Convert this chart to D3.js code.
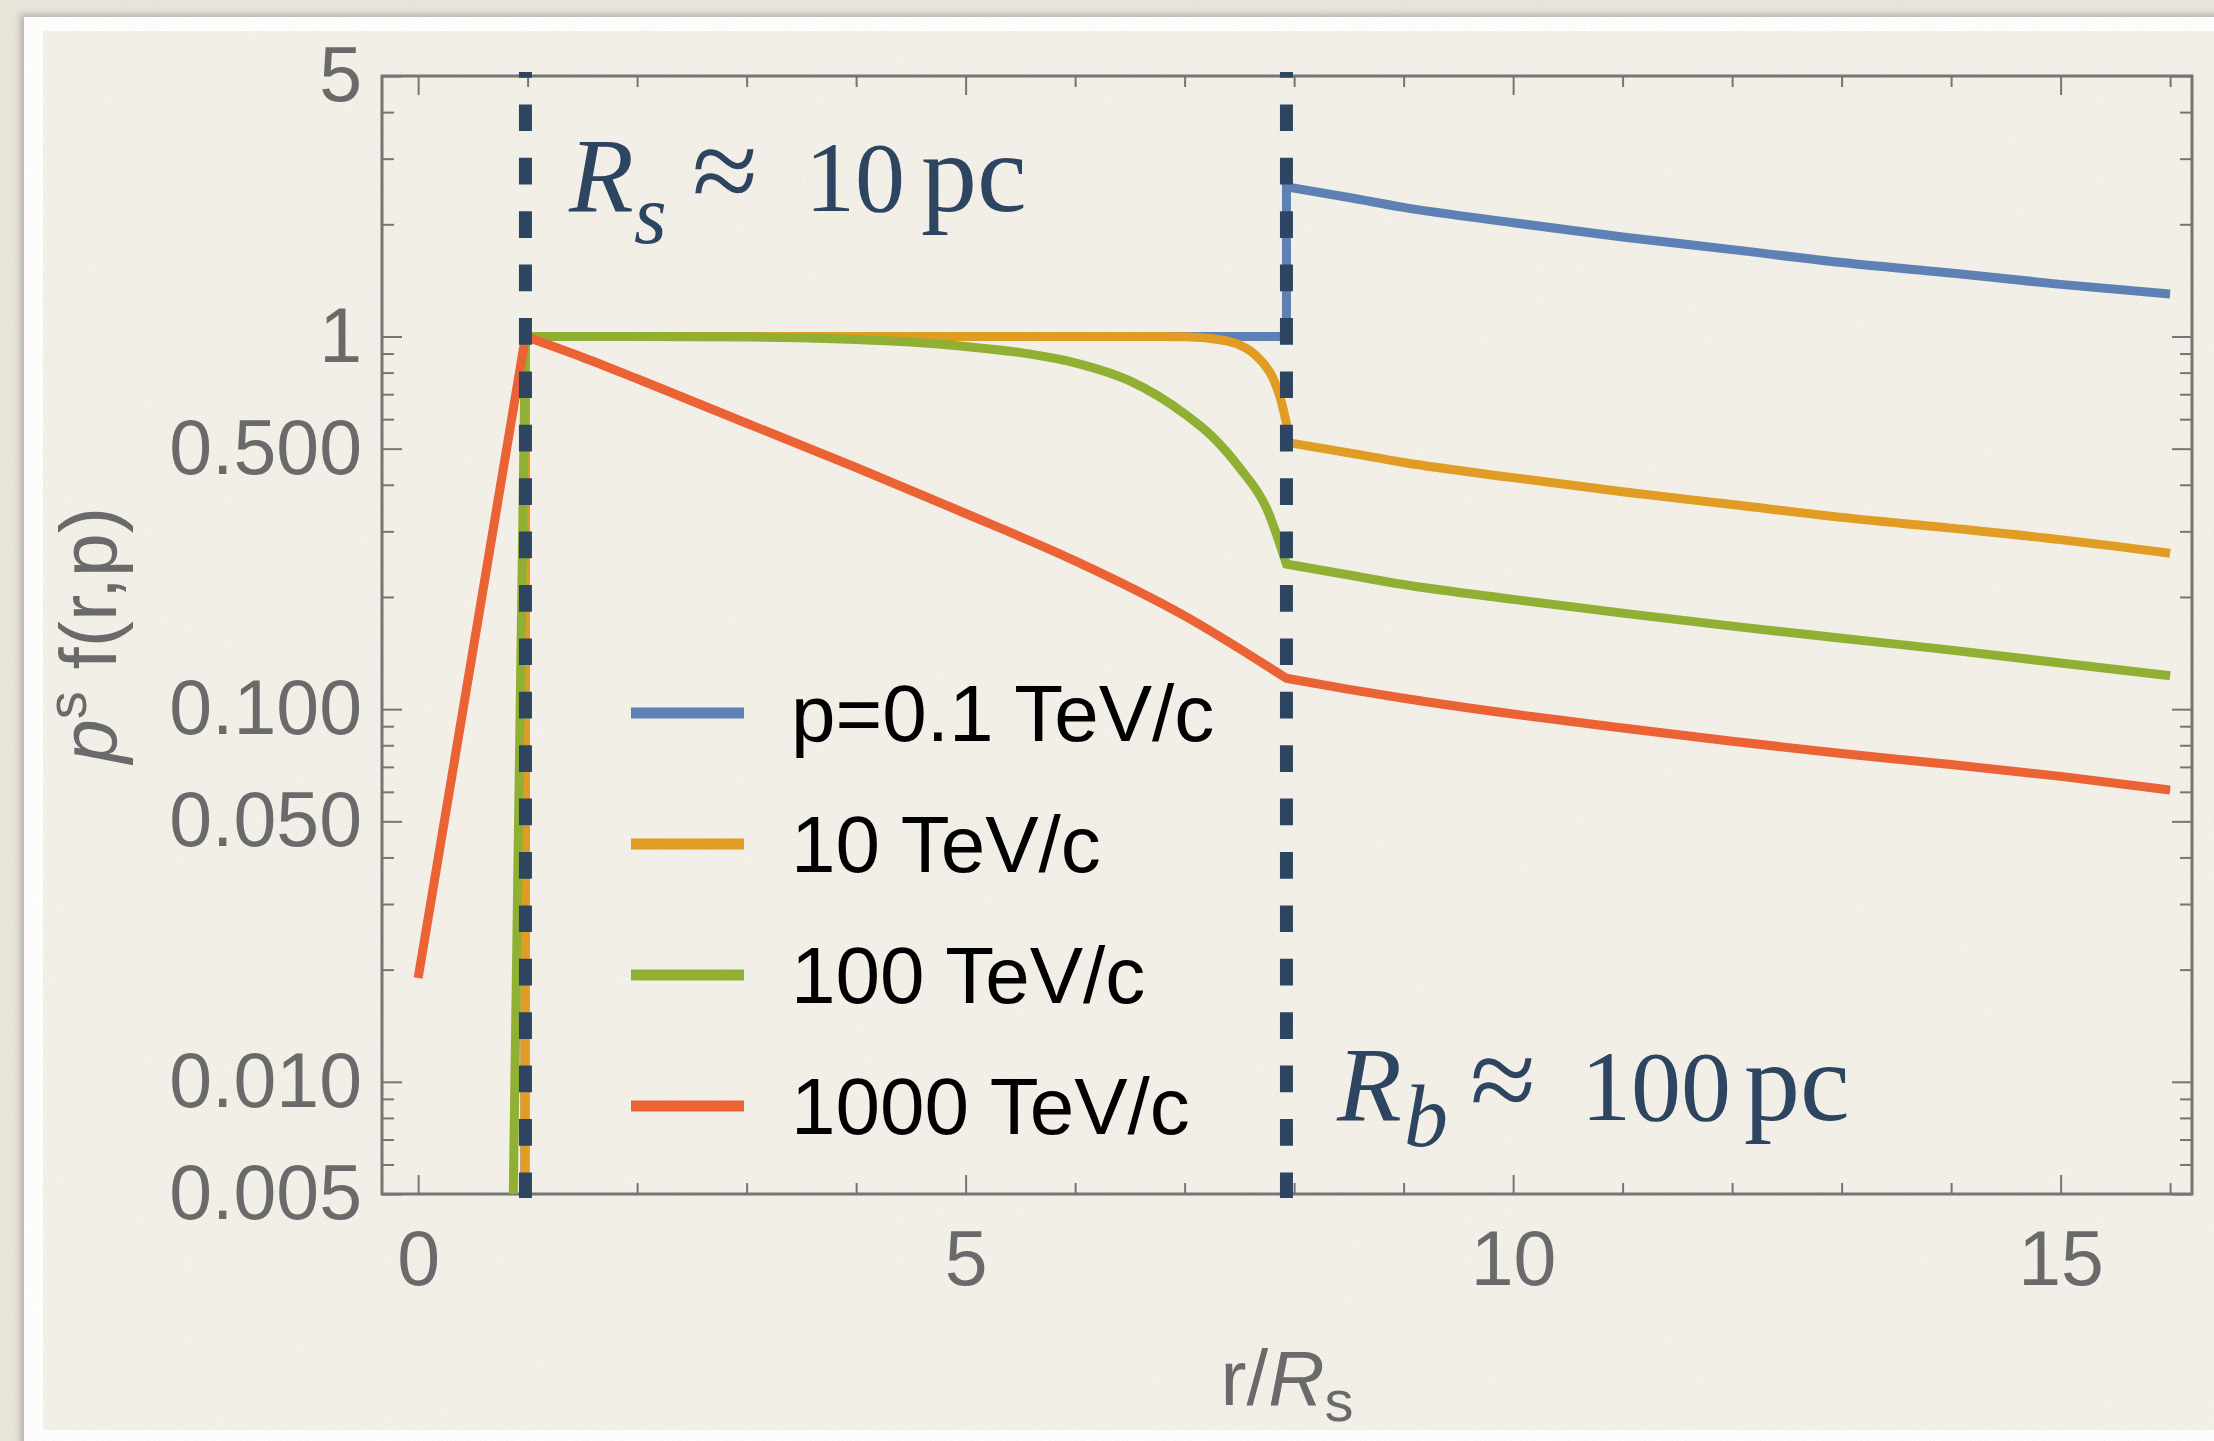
<!DOCTYPE html>
<html>
<head>
<meta charset="utf-8">
<script src="https://cdn.jsdelivr.net/npm/d3@7"></script>
<style>
  body { margin: 0; background: #ebe6dc; }
  svg { display: block; }
</style>
</head>
<body>
<div id="chart"></div>
<script>
// values: r in units of R_s, p^s f(r,p)
var rBlue = [0.975, 0.98, 2, 3, 4, 5, 6, 7, 7.93, 7.93, 8.5, 9, 10, 11, 12, 13, 14, 15, 16];
var fBlue = [0.004, 1, 1, 1, 1, 1, 1, 1, 1, 2.52, 2.36, 2.22, 2.02, 1.85, 1.71, 1.58, 1.48, 1.38, 1.30];

var rOrange = [0.975, 0.98, 2, 3, 4, 5, 6, 6.8, 7.0, 7.2, 7.4, 7.5, 7.6, 7.7, 7.8, 7.87, 7.93, 7.93, 8.5, 9, 10, 11, 12, 13, 14, 15, 16];
var fOrange = [0.004, 1, 1, 1, 1, 1, 1, 1, 0.998, 0.99, 0.97, 0.95, 0.915, 0.86, 0.78, 0.69, 0.585, 0.52, 0.487, 0.459, 0.418, 0.383, 0.354, 0.327, 0.306, 0.285, 0.262];

var rGreen = [0.868, 0.98, 2, 3, 3.5, 4, 4.5, 5, 5.5, 6, 6.5, 7, 7.25, 7.5, 7.75, 7.93, 7.93, 8.5, 9, 10, 11, 12, 13, 14, 15, 16];
var fGreen = [0.0048, 1, 1, 0.997, 0.992, 0.982, 0.966, 0.94, 0.905, 0.85, 0.76, 0.62, 0.54, 0.445, 0.345, 0.245, 0.245, 0.229, 0.216, 0.197, 0.181, 0.167, 0.155, 0.144, 0.133, 0.123];

var rRed = [0, 0.98, 1.5, 2, 3, 4, 5, 6, 7, 7.93, 7.93, 8.5, 9, 10, 11, 12, 13, 14, 15, 16];
var fRed = [0.019, 1, 0.88, 0.77, 0.585, 0.445, 0.335, 0.25, 0.178, 0.121, 0.121, 0.113, 0.107, 0.097, 0.089, 0.082, 0.076, 0.071, 0.066, 0.0607];

var seriesNames = ["p=0.1 TeV/c", "10 TeV/c", "100 TeV/c", "1000 TeV/c"];
var seriesColors = ["#5e81b5", "#e19c24", "#8fb032", "#eb6235"];

var xTicksMajor = [0, 5, 10, 15];
var xTicksMinor = [1, 2, 3, 4, 6, 7, 8, 9, 11, 12, 13, 14, 16];
var yTicksMajor = [0.005, 0.01, 0.05, 0.1, 0.5, 1, 5];
var yTickLabels = ["0.005", "0.010", "0.050", "0.100", "0.500", "1", "5"];
var yTicksMinor = [0.006, 0.007, 0.008, 0.009, 0.02, 0.03, 0.04, 0.06, 0.07, 0.08, 0.09,
                   0.2, 0.3, 0.4, 0.6, 0.7, 0.8, 0.9, 2, 3, 4];

// R_s and R_b positions (r/R_s)
var markerLines = [0.98, 7.93];

var svgWidth = 2214;
var svgHeight = 1441;
var plot = { left: 382, right: 2192, top: 76, bottom: 1194 };

var svg = d3.select("#chart")
  .append("svg")
  .attr("width", svgWidth)
  .attr("height", svgHeight);

var defs = svg.append("defs");

var blur = defs.append("filter").attr("id", "shadow");
blur.append("feGaussianBlur").attr("stdDeviation", 3);

var grain = defs.append("filter").attr("id", "grain")
  .attr("x", 0).attr("y", 0).attr("width", "100%").attr("height", "100%");
grain.append("feTurbulence")
  .attr("type", "fractalNoise")
  .attr("baseFrequency", 0.9)
  .attr("numOctaves", 2)
  .attr("seed", 3);
grain.append("feColorMatrix")
  .attr("type", "matrix")
  .attr("values", "0 0 0 0 0.55  0 0 0 0 0.5  0 0 0 0 0.4  0 0 0 -1.2 0.75");

defs.append("clipPath").attr("id", "plotClip")
  .append("rect")
  .attr("x", plot.left)
  .attr("y", plot.top)
  .attr("width", plot.right - plot.left)
  .attr("height", plot.bottom - plot.top);

// paper background, white mount and inner panel
svg.append("rect").attr("width", svgWidth).attr("height", svgHeight).attr("fill", "#ebe6dc");
svg.append("rect")
  .attr("x", 20).attr("y", 14)
  .attr("width", svgWidth).attr("height", svgHeight)
  .attr("fill", "#b9b5ad")
  .attr("filter", "url(#shadow)");
svg.append("rect")
  .attr("x", 24).attr("y", 17)
  .attr("width", svgWidth).attr("height", svgHeight)
  .attr("fill", "#ffffff");
svg.append("rect")
  .attr("x", 43).attr("y", 31)
  .attr("width", svgWidth - 43).attr("height", 1430 - 31)
  .attr("fill", "#f4f1ea");
svg.append("rect")
  .attr("width", svgWidth).attr("height", svgHeight)
  .attr("filter", "url(#grain)")
  .attr("opacity", 0.25);

var xScale = d3.scaleLinear().domain([-0.33, 16.2]).range([plot.left, plot.right]);
var yScale = d3.scaleLog().domain([0.005, 5]).range([plot.bottom, plot.top]);

var axisColor = "#757575";
var labelColor = "#6a6a6a";

function styleAxis(g) {
  g.select(".domain").remove();
  g.selectAll(".tick line").attr("stroke", axisColor).attr("stroke-width", 2);
  g.selectAll(".tick text")
    .attr("fill", labelColor)
    .style("font-family", "'Liberation Sans', Arial, sans-serif")
    .style("font-size", "77px");
}

// major ticks with labels
svg.append("g")
  .attr("transform", `translate(0, ${plot.bottom})`)
  .call(d3.axisBottom(xScale).tickValues(xTicksMajor).tickSizeInner(-19).tickSizeOuter(0).tickPadding(36))
  .call(styleAxis);
svg.append("g")
  .attr("transform", `translate(${plot.left}, 0)`)
  .call(d3.axisLeft(yScale).tickValues(yTicksMajor)
    .tickFormat(d => yTickLabels[yTicksMajor.indexOf(d)])
    .tickSizeInner(-20).tickSizeOuter(0).tickPadding(20))
  .call(styleAxis);
svg.append("g")
  .attr("transform", `translate(0, ${plot.top})`)
  .call(d3.axisTop(xScale).tickValues(xTicksMajor).tickFormat("").tickSizeInner(-19).tickSizeOuter(0))
  .call(styleAxis);
svg.append("g")
  .attr("transform", `translate(${plot.right}, 0)`)
  .call(d3.axisRight(yScale).tickValues(yTicksMajor).tickFormat("").tickSizeInner(-20).tickSizeOuter(0))
  .call(styleAxis);

// minor ticks
svg.append("g")
  .attr("transform", `translate(0, ${plot.bottom})`)
  .call(d3.axisBottom(xScale).tickValues(xTicksMinor).tickFormat("").tickSizeInner(-11).tickSizeOuter(0))
  .call(styleAxis);
svg.append("g")
  .attr("transform", `translate(0, ${plot.top})`)
  .call(d3.axisTop(xScale).tickValues(xTicksMinor).tickFormat("").tickSizeInner(-11).tickSizeOuter(0))
  .call(styleAxis);
svg.append("g")
  .attr("transform", `translate(${plot.left}, 0)`)
  .call(d3.axisLeft(yScale).tickValues(yTicksMinor).tickFormat("").tickSizeInner(-12).tickSizeOuter(0))
  .call(styleAxis);
svg.append("g")
  .attr("transform", `translate(${plot.right}, 0)`)
  .call(d3.axisRight(yScale).tickValues(yTicksMinor).tickFormat("").tickSizeInner(-12).tickSizeOuter(0))
  .call(styleAxis);

// frame
svg.append("rect")
  .attr("x", plot.left).attr("y", plot.top)
  .attr("width", plot.right - plot.left)
  .attr("height", plot.bottom - plot.top)
  .attr("fill", "none")
  .attr("stroke", axisColor)
  .attr("stroke-width", 3);

// curves: smooth inside each piece, sharp corners at jumps and kinks
var seriesData = [
  d3.zip(rBlue, fBlue),
  d3.zip(rOrange, fOrange),
  d3.zip(rGreen, fGreen),
  d3.zip(rRed, fRed)
];

var smoothLine = d3.line()
  .x(d => xScale(d[0]))
  .y(d => yScale(d[1]))
  .curve(d3.curveMonotoneX);

function piecewisePath(points) {
  var pieces = [[points[0]]];
  var lastSign = null;
  for (var i = 1; i < points.length; i++) {
    var prev = points[i - 1], cur = points[i];
    if (cur[0] === prev[0]) {
      pieces.push([cur]);
      lastSign = null;
      continue;
    }
    var s = Math.sign(cur[1] - prev[1]);
    if (lastSign !== null && s !== lastSign) pieces.push([prev]);
    lastSign = s;
    pieces[pieces.length - 1].push(cur);
  }
  return pieces.map((p, i) => {
    var d = smoothLine(p);
    return i ? "L" + d.slice(1) : d;
  }).join("");
}

svg.append("g")
  .attr("clip-path", "url(#plotClip)")
  .selectAll("path")
  .data(seriesData)
  .enter()
  .append("path")
  .attr("d", piecewisePath)
  .attr("fill", "none")
  .attr("stroke", (d, i) => seriesColors[i])
  .attr("stroke-width", 9)
  .attr("stroke-linejoin", "miter")
  .attr("stroke-miterlimit", 3);

// dashed radius markers
svg.selectAll(".marker")
  .data(markerLines)
  .enter()
  .append("line")
  .attr("class", "marker")
  .attr("x1", d => xScale(d))
  .attr("x2", d => xScale(d))
  .attr("y1", plot.top - 4)
  .attr("y2", plot.bottom + 4)
  .attr("stroke", "#2e4562")
  .attr("stroke-width", 13)
  .attr("stroke-dasharray", "26.7,26.7")
  .attr("stroke-dashoffset", 21);

// legend
var legend = svg.append("g")
  .selectAll("g")
  .data(seriesNames)
  .enter()
  .append("g")
  .attr("transform", (d, i) => `translate(631, ${713 + i * 131})`);

legend.append("line")
  .attr("x1", 0).attr("x2", 113)
  .attr("y1", 0).attr("y2", 0)
  .attr("stroke", (d, i) => seriesColors[i])
  .attr("stroke-width", 11);

legend.append("text")
  .attr("x", 160)
  .attr("y", 28)
  .attr("fill", "#000")
  .style("font-family", "'Liberation Sans', Arial, sans-serif")
  .style("font-size", "80px")
  .text(d => d);

// annotations
var serif = "'Liberation Serif', 'Times New Roman', serif";
var annoColor = "#2e4562";

function annotate(parts, baseline) {
  var t = svg.append("text")
    .attr("y", baseline)
    .attr("fill", annoColor)
    .style("font-family", serif);
  parts.forEach(p => {
    t.append("tspan")
      .attr("x", p.x)
      .attr("y", baseline + (p.shift || 0))
      .style("font-size", p.size + "px")
      .style("font-style", p.italic ? "italic" : "normal")
      .text(p.text);
  });
}

annotate([
  { text: "R", x: 569, size: 106, italic: true },
  { text: "s", x: 634, size: 84, italic: true, shift: 32 },
  { text: "\u2248", x: 692, size: 120 },
  { text: "10", x: 805, size: 100 },
  { text: "pc", x: 921, size: 112 }
], 211);

annotate([
  { text: "R", x: 1337, size: 106, italic: true },
  { text: "b", x: 1404, size: 88, italic: true, shift: 26 },
  { text: "\u2248", x: 1470, size: 120 },
  { text: "100", x: 1581, size: 100 },
  { text: "pc", x: 1744, size: 112 }
], 1120);

// axis titles
var yTitle = svg.append("text")
  .attr("transform", `translate(116, ${(plot.top + plot.bottom) / 2}) rotate(-90)`)
  .attr("text-anchor", "middle")
  .attr("fill", labelColor)
  .style("font-family", "'Liberation Sans', Arial, sans-serif")
  .style("font-size", "79px");
yTitle.append("tspan").style("font-style", "italic").text("p");
yTitle.append("tspan").attr("dy", -30).style("font-size", "56px").text("s");
yTitle.append("tspan").attr("dy", 30).text("\u00a0f(r,p)");

var xTitle = svg.append("text")
  .attr("x", (plot.left + plot.right) / 2)
  .attr("y", 1405)
  .attr("text-anchor", "middle")
  .attr("fill", labelColor)
  .style("font-family", "'Liberation Sans', Arial, sans-serif")
  .style("font-size", "78px");
xTitle.append("tspan").text("r/");
xTitle.append("tspan").style("font-style", "italic").text("R");
xTitle.append("tspan").attr("dy", 16).style("font-size", "58px").text("s");
</script>
</body>
</html>
